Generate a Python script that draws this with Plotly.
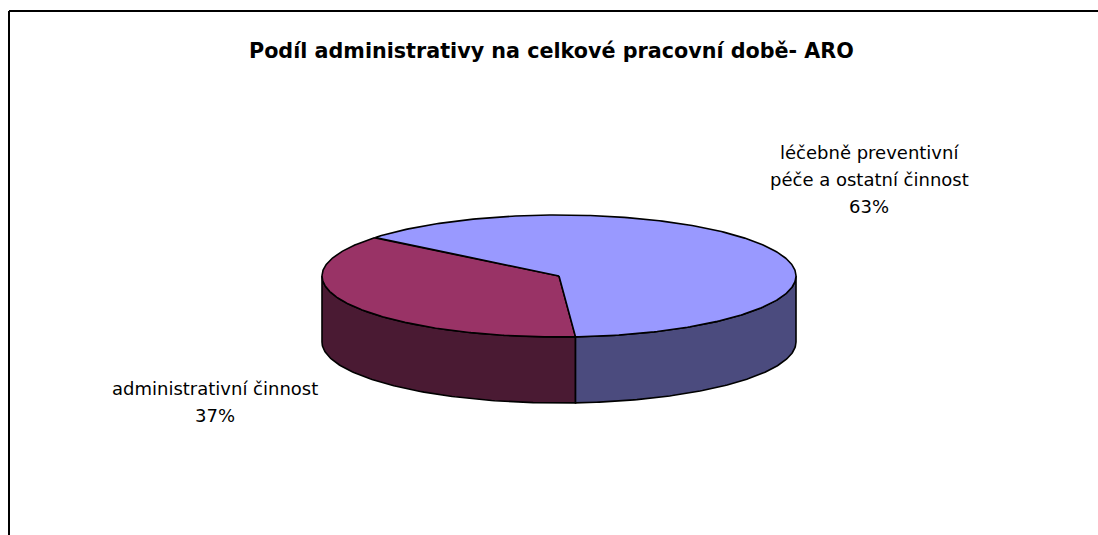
import numpy as np
import plotly.graph_objects as go

# ---- data ----
categories = ["administrativní činnost", "léčebně preventivní<br>péče a ostatní činnost"]
label_lines = [["administrativní činnost"], ["léčebně preventivní", "péče a ostatní činnost"]]
values = [37, 63]
title = "Podíl administrativy na celkové pracovní době- ARO"

# ---- styling / geometry (pixel space) ----
W, H = 1098, 535
cx, cy = 559, 276          # centre of top ellipse
a, b = 237, 61             # ellipse radii
depth = 66                 # pie thickness
boundary = -86.0           # angle (deg) of first slice boundary
top_colors = ["#993366", "#9999FF"]
side_colors = ["#4A1A33", "#4B4B7E"]
label_pos = [(215, [388, 415]), (869, [152, 179, 206])]
FONT = "DejaVu Sans, Verdana, sans-serif"

total = sum(values)
spans = [v / total * 360 for v in values]
ranges = [(boundary + 360 - spans[0], boundary + 360), (boundary, boundary + spans[1])]

def pt(t, dz=0.0):
    r = np.radians(t)
    return cx + a * np.cos(r), cy - b * np.sin(r) + dz

fig = go.Figure()

# side walls (front half 180..360)
for (t0, t1), col in zip(ranges, side_colors):
    for k in (-360, 0, 360):
        s0, s1 = max(t0 + k, 180), min(t1 + k, 360)
        if s1 <= s0:
            continue
        ts = np.linspace(s0, s1, 120)
        xs_top, ys_top = pt(ts)
        xs_bot, ys_bot = pt(ts[::-1], depth)
        xs = np.concatenate([xs_top, xs_bot, xs_top[:1]])
        ys = np.concatenate([ys_top, ys_bot, ys_top[:1]])
        fig.add_trace(go.Scatter(x=xs, y=ys, mode="lines", fill="toself",
                                 fillcolor=col, line=dict(color="black", width=1.6),
                                 hoverinfo="skip", showlegend=False))

# top faces
for (t0, t1), col, name in zip(ranges, top_colors, categories):
    ts = np.linspace(t0, t1, 300)
    xs, ys = pt(ts)
    xs = np.concatenate([[cx], xs, [cx]])
    ys = np.concatenate([[cy], ys, [cy]])
    fig.add_trace(go.Scatter(x=xs, y=ys, mode="lines", fill="toself",
                             fillcolor=col, line=dict(color="black", width=1.6),
                             name=name, hoverinfo="skip", showlegend=False))

# labels
annotations = []
for lines, v, (lx, lys) in zip(label_lines, values, label_pos):
    texts = lines + [f"{round(v / total * 100)}%"]
    for t, ly in zip(texts, lys):
        annotations.append(dict(x=lx, y=ly, xref="x", yref="y", text=t, showarrow=False,
                                xanchor="center", yanchor="middle",
                                font=dict(family=FONT, size=18, color="black")))
annotations.append(dict(x=551, y=51, xref="x", yref="y", text=f"<b>{title}</b>", showarrow=False,
                        xanchor="center", yanchor="middle",
                        font=dict(family=FONT, size=20.7, color="black")))

shapes = [
    dict(type="line", x0=9, x1=9, y0=11, y1=H, xref="x", yref="y", line=dict(color="black", width=2)),
    dict(type="line", x0=9, x1=W, y0=11, y1=11, xref="x", yref="y", line=dict(color="black", width=2)),
]

fig.update_layout(
    width=W, height=H, margin=dict(l=0, r=0, t=0, b=0),
    paper_bgcolor="white", plot_bgcolor="white",
    xaxis=dict(range=[0, W], visible=False, fixedrange=True),
    yaxis=dict(range=[H, 0], visible=False, fixedrange=True),
    annotations=annotations, shapes=shapes,
)

fig.write_html("out.html")
